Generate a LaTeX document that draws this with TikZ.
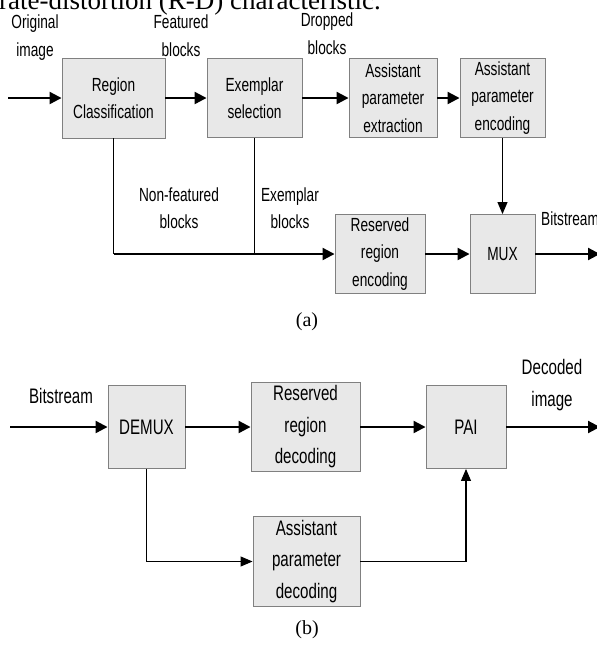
\documentclass[tikz,border=0pt]{standalone}
\usepackage{fontspec}
\setmainfont{Liberation Sans}[FakeStretch=0.72]
\newfontfamily\serifcap{Liberation Serif}
\usetikzlibrary{arrows.meta}
\tikzset{
  blk/.style={draw=black!50, fill=black!9, line width=0.9pt, inner sep=0pt, align=center},
  topf/.style={font=\fontsize{19}{27.5}\selectfont},
  botf/.style={font=\fontsize{21}{31.5}\selectfont},
  lbl/.style={align=center, inner sep=0pt},
  thick arr/.style={line width=2.2pt, -{Triangle[length=12pt,width=12pt]}},
  thin arr/.style={line width=1.1pt, -{Triangle[length=12pt,width=10pt]}},
  thin line/.style={line width=1.1pt},
}
\begin{document}
\begin{tikzpicture}[x=1pt,y=-1pt]
\clip (0,0) rectangle (597,646);
\fill[white] (0,0) rectangle (597,646);
% clipped running text at the top
\node[anchor=base west, inner sep=0pt, font=\serifcap\fontsize{27}{27}\selectfont] (cap) at (-1,9.5) {rate-distortion (R-D) characteristic.};
% ---------- (a) ----------
\node[blk, topf, minimum width=103pt, minimum height=80pt] (rc) at (113.5,98) {Region\\Classification};
\node[blk, topf, minimum width=95pt, minimum height=79pt] (es) at (254.5,98) {Exemplar\\selection};
\node[blk, topf, minimum width=88pt, minimum height=79pt] (ape) at (393,98) {Assistant\\parameter\\extraction};
\node[blk, topf, minimum width=85pt, minimum height=79pt] (apn) at (502.5,98) {Assistant\\parameter\\encoding};
\node[blk, topf, minimum width=90pt, minimum height=79pt] (rre) at (380,254) {Reserved\\region\\encoding};
\node[blk, topf, minimum width=65pt, minimum height=79pt] (mux) at (502.5,254) {MUX};
\coordinate (ain) at (8,98);
\coordinate (aout) at (600,254);
\coordinate (j1) at (113.5,254);
\coordinate (j2) at (254.5,254);
% labels
\node[lbl, topf] (l1) at (35,37.5) {Original\\image};
\node[lbl, topf] (l2) at (181,35.5) {Featured\\blocks};
\node[lbl, topf] (l3) at (327,33.5) {Dropped\\blocks};
\node[lbl, topf] (l4) at (179,208) {Non-featured\\blocks};
\node[lbl, topf] (l5) at (290,208) {Exemplar\\blocks};
\node[anchor=west, inner sep=0pt, topf] (l6) at (541,219) {Bitstream};
\node[inner sep=0pt, font=\serifcap\fontsize{20}{20}\selectfont] (ca) at (307,322) {(a)};
% connectors
\draw[thick arr] (ain) -- (rc);
\draw[thick arr] (rc) -- (es);
\draw[thick arr] (es) -- (ape);
\draw[thick arr] (ape) -- (apn);
\draw[thin line] (rc.south) -- (j1);
\draw[thin line] (es.south) -- (j2);
\draw[thick arr] (j1) -- (rre.west);
\draw[thick arr] (rre) -- (mux);
\draw[thin arr] (apn) -- (mux);
\draw[thick arr] (mux) -- (aout);
% ---------- (b) ----------
\node[blk, botf, minimum width=77pt, minimum height=83pt] (demux) at (146.5,427) {DEMUX};
\node[blk, botf, minimum width=109pt, minimum height=89pt] (rrd) at (305.5,427) {Reserved\\region\\decoding};
\node[blk, botf, minimum width=80pt, minimum height=83pt] (pai) at (466,427) {PAI};
\node[blk, botf, minimum width=107pt, minimum height=90pt] (apd) at (306.5,561.5) {Assistant\\parameter\\decoding};
\coordinate (bin) at (10,427);
\coordinate (bout) at (600,427);
\node[lbl, botf] (l7) at (61,396) {Bitstream};
\node[lbl, botf] (l8) at (552,385) {Decoded\\image};
\node[inner sep=0pt, font=\serifcap\fontsize{20}{20}\selectfont] (cb) at (307,630) {(b)};
\draw[thick arr] (bin) -- (demux);
\draw[thick arr] (demux) -- (rrd);
\draw[thick arr] (rrd) -- (pai);
\draw[thick arr] (pai) -- (bout);
\draw[thin arr] (demux.south) |- (apd.west);
\draw[thin arr] (apd.east) -| (pai.south);
\end{tikzpicture}
\end{document}
